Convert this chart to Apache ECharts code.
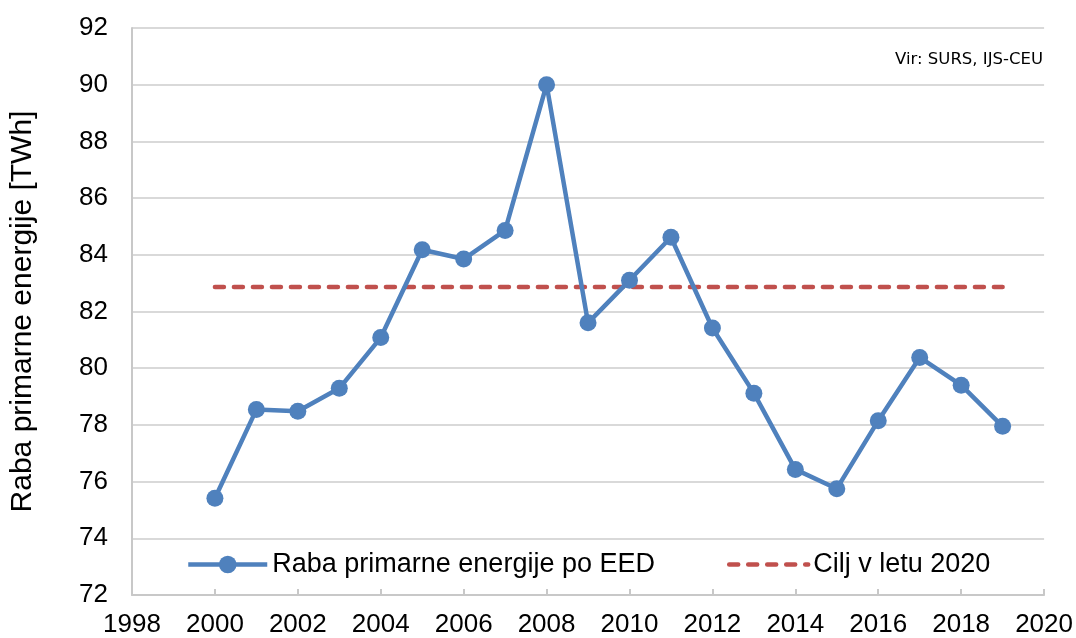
<!DOCTYPE html>
<html>
<head>
<meta charset="utf-8">
<script src="https://cdn.jsdelivr.net/npm/echarts@6/dist/echarts.min.js"></script>
<style>
  html, body { margin: 0; padding: 0; background: #fff; }
  #main { width: 1076px; height: 638px; }
</style>
</head>
<body>
<div id="main"></div>
<script>
// letnice in raba primarne energije po EED [TWh]
const years = [2000, 2001, 2002, 2003, 2004, 2005, 2006, 2007, 2008, 2009,
               2010, 2011, 2012, 2013, 2014, 2015, 2016, 2017, 2018, 2019];
const raba = [75.41, 78.54, 78.48, 79.29, 81.08, 84.18, 83.85, 84.86, 90.0, 81.6,
              83.1, 84.62, 81.42, 79.12, 76.43, 75.75, 78.15, 80.38, 79.4, 77.95];
// cilj v letu 2020
const targetYears = [2000, 2019];
const targetValues = [82.86, 82.86];

const blue = "#4F81BD";
const red = "#C0504D";
const grid = "#D9D9D9";
const font = "'Liberation Sans', Arial, sans-serif";

const chart = echarts.init(document.getElementById("main"));
chart.setOption({
  animation: false,
  textStyle: { fontFamily: font, color: "#000" },
  grid: { left: 131, right: 31, top: 28, bottom: 42 },
  xAxis: {
    type: "value",
    min: 1998,
    max: 2020,
    interval: 2,
    axisLine: { lineStyle: { color: "#C8C8C8", width: 2 } },
    axisTick: { show: true, inside: true, length: 6, lineStyle: { color: "#C8C8C8", width: 2 } },
    axisLabel: { fontSize: 26, color: "#000", margin: 17, formatter: (v) => String(v) },
    splitLine: { show: false },
  },
  yAxis: {
    type: "value",
    min: 72,
    max: 92,
    interval: 2,
    name: "Raba primarne energije [TWh]",
    nameLocation: "middle",
    nameGap: 94,
    nameTextStyle: { fontSize: 30, color: "#000", fontFamily: font, padding: [0, 0, 0, 0] },
    axisLine: { show: true, lineStyle: { color: "#C8C8C8", width: 2 } },
    axisTick: { show: false },
    axisLabel: { fontSize: 26, color: "#000", margin: 24 },
    splitLine: { lineStyle: { color: grid, width: 2 } },
  },
  legend: {
    left: 181,
    top: 546,
    itemWidth: 79,
    itemHeight: 22,
    itemGap: 72,
    textStyle: { fontSize: 27, color: "#000", fontFamily: font },
    data: [
      {
        name: "Raba primarne energije po EED",
        lineStyle: { width: 4.5 },
      },
      {
        name: "Cilj v letu 2020",
        itemStyle: { opacity: 0 },
        lineStyle: { width: 4.5, type: [9, 10], cap: "round" },
      },
    ],
  },
  graphic: [
    {
      type: "text",
      right: 33,
      top: 51,
      style: {
        text: "Vir: SURS, IJS-CEU",
        font: "16.5px 'DejaVu Sans', sans-serif",
        fill: "#000",
      },
    },
  ],
  series: [
    {
      name: "Raba primarne energije po EED",
      type: "line",
      data: years.map((y, i) => [y, raba[i]]),
      symbol: "circle",
      symbolSize: 17,
      itemStyle: { color: blue },
      lineStyle: { color: blue, width: 4.5 },
      z: 3,
    },
    {
      name: "Cilj v letu 2020",
      type: "line",
      data: targetYears.map((y, i) => [y, targetValues[i]]),
      symbol: "none",
      itemStyle: { color: red },
      lineStyle: { color: red, width: 4.5, type: [9, 10], cap: "round" },
      z: 2,
    },
  ],
});
</script>
</body>
</html>
